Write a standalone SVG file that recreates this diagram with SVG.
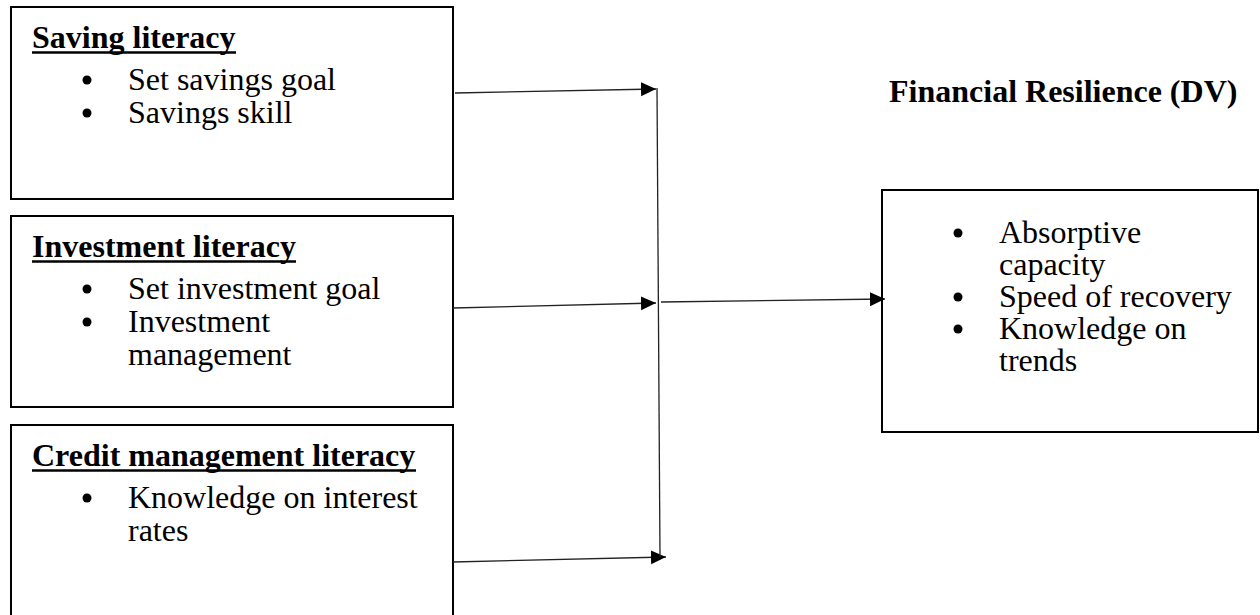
<svg xmlns="http://www.w3.org/2000/svg" width="1260" height="615" viewBox="0 0 1260 615">
<defs>
<style>
.box{fill:#fff;stroke:#000;stroke-width:2}
.h{font-family:"Liberation Serif","Times New Roman",serif;font-size:32px;font-weight:bold;fill:#000}
.u{stroke:#000;stroke-width:2.5}
.t{font-family:"Liberation Serif","Times New Roman",serif;font-size:32px;fill:#000}
.tt{font-family:"Liberation Serif","Times New Roman",serif;font-size:32px;font-weight:bold;fill:#000}
.c{stroke:#222;stroke-width:1.3;fill:none}
</style>
<marker id="ah" markerUnits="userSpaceOnUse" markerWidth="16" markerHeight="16" refX="15" refY="7" orient="auto">
<path d="M0,0 L15,7 L0,14 z" fill="#000"/>
</marker>
</defs>
<rect width="1260" height="615" fill="#fff"/>
<g id="saving">
<rect class="box" x="11" y="7" width="442" height="192"/>
<text class="h" x="32" y="48">Saving literacy</text>
<line class="u" x1="32" y1="52.5" x2="236" y2="52.5"/>
<circle cx="87" cy="80" r="4.5"/><text class="t" x="128" y="90">Set savings goal</text>
<circle cx="87" cy="113" r="4.5"/><text class="t" x="128" y="123">Savings skill</text>
</g>
<g id="investment">
<rect class="box" x="11" y="216" width="442" height="191"/>
<text class="h" x="32" y="257">Investment literacy</text>
<line class="u" x1="32" y1="261.5" x2="296" y2="261.5"/>
<circle cx="87" cy="289" r="4.5"/><text class="t" x="128" y="299">Set investment goal</text>
<circle cx="87" cy="322" r="4.5"/><text class="t" x="128" y="332">Investment</text>
<text class="t" x="128" y="365">management</text>
</g>
<g id="credit">
<rect class="box" x="11" y="425" width="442" height="200"/>
<text class="h" x="32" y="466">Credit management literacy</text>
<line class="u" x1="32" y1="470.5" x2="416" y2="470.5"/>
<circle cx="87" cy="498" r="4.5"/><text class="t" x="128" y="508">Knowledge on interest</text>
<text class="t" x="128" y="541">rates</text>
</g>
<g id="resilience">
<text class="tt" x="889" y="102">Financial Resilience (DV)</text>
<rect class="box" x="882" y="190" width="376" height="242"/>
<circle cx="958" cy="233" r="4.5"/><text class="t" x="999" y="243">Absorptive</text>
<text class="t" x="999" y="275">capacity</text>
<circle cx="958" cy="297" r="4.5"/><text class="t" x="999" y="307">Speed of recovery</text>
<circle cx="958" cy="329" r="4.5"/><text class="t" x="999" y="339">Knowledge on</text>
<text class="t" x="999" y="371">trends</text>
</g>
<g id="connectors">
<line class="c" x1="455" y1="93" x2="656" y2="89" marker-end="url(#ah)"/>
<line class="c" x1="453" y1="308" x2="656" y2="303" marker-end="url(#ah)"/>
<line class="c" x1="453" y1="562" x2="666" y2="557" marker-end="url(#ah)"/>
<line class="c" x1="657" y1="88" x2="660" y2="557"/>
<line class="c" x1="661" y1="302" x2="885" y2="299" marker-end="url(#ah)"/>
</g>
</svg>
